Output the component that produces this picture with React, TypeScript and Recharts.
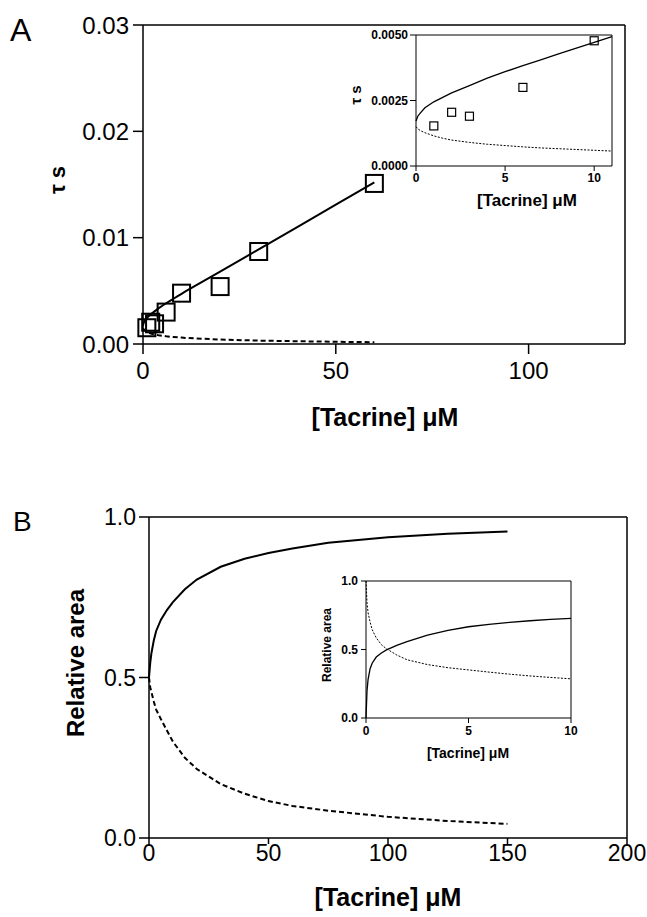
import React from 'react';
import { ComposedChart, Line, Scatter, XAxis, YAxis, ReferenceLine } from 'recharts';

// measured relaxation times (panel A)
const tacrineConc = [1, 2, 3, 6, 10, 20, 30, 60];
const tauMeasured = [0.00153, 0.00205, 0.0019, 0.003, 0.00478, 0.0054, 0.0087, 0.0151];

// fitted time constants (panel A)
const fitConc = [0, 0.1, 0.25, 0.5, 1, 1.5, 2, 3, 4, 5, 6, 7, 8, 9, 10, 11, 20, 30, 40, 50, 60];
const tauSlow = [0.00172, 0.0019, 0.00203, 0.00222, 0.00245, 0.00262, 0.00279, 0.00307, 0.00335, 0.0036, 0.00383,
  0.00405, 0.00428, 0.0045, 0.00472, 0.00494, 0.0068, 0.0089, 0.011, 0.0131, 0.0152];
const tauFast = [0.0015, 0.00142, 0.00135, 0.00127, 0.00115, 0.00106, 0.00099, 0.0009, 0.00083, 0.00078, 0.00073,
  0.00069, 0.00066, 0.00063, 0.0006, 0.00057, 0.00042, 0.00032, 0.00026, 0.00021, 0.00017];

// relative areas (panel B)
const areaConc = [0, 0.5, 1, 2, 3, 5, 7.5, 10, 15, 20, 30, 40, 50, 60, 75, 100, 125, 150];
const areaSlow = [0.5, 0.545, 0.575, 0.615, 0.645, 0.68, 0.71, 0.735, 0.775, 0.805, 0.845, 0.87, 0.888, 0.902, 0.92, 0.937, 0.948, 0.955];
const areaFast = [0.5, 0.47, 0.455, 0.425, 0.4, 0.37, 0.335, 0.3, 0.25, 0.215, 0.168, 0.138, 0.115, 0.1, 0.085, 0.066, 0.053, 0.044];

// relative areas, inset of panel B
const insetConc = [0, 0.05, 0.1, 0.2, 0.3, 0.5, 0.75, 1, 1.5, 2, 3, 4, 5, 6, 7, 8, 9, 10];
const insetSlow = [0, 0.2, 0.28, 0.36, 0.4, 0.445, 0.475, 0.497, 0.53, 0.557, 0.605, 0.64, 0.666, 0.683, 0.698, 0.71, 0.72, 0.727];
const insetFast = [1, 0.84, 0.77, 0.7, 0.645, 0.585, 0.535, 0.505, 0.46, 0.425, 0.39, 0.367, 0.351, 0.335, 0.32, 0.307, 0.296, 0.286];

const points = tacrineConc.map((x, i) => ({ x, tau: tauMeasured[i] }));
const fitRows = fitConc.map((x, i) => ({ x, slow: tauSlow[i], fast: tauFast[i] }));
const areaRows = areaConc.map((x, i) => ({ x, slow: areaSlow[i], fast: areaFast[i] }));
const insetRows = insetConc.map((x, i) => ({ x, slow: insetSlow[i], fast: insetFast[i] }));

const FONT = '"Liberation Sans", Arial, Helvetica, sans-serif';
const axisStyle = { stroke: '#000', strokeWidth: 1.5 };
const thin = { stroke: '#000', strokeWidth: 1 };

const square = (size: number, sw: number) => (props: any) => {
  const { cx, cy } = props;
  if (cx == null || cy == null) return null;
  return <rect x={cx - size / 2} y={cy - size / 2} width={size} height={size} fill="none" stroke="#000" strokeWidth={sw} />;
};

const title = (text: string, x: number, y: number, size: number, rotate = false) => () => (
  <text
    x={x}
    y={y}
    textAnchor="middle"
    dominantBaseline="central"
    fontSize={size}
    fontWeight="bold"
    fill="#000"
    fontFamily={FONT}
    transform={rotate ? `rotate(-90 ${x} ${y})` : undefined}
  >
    {text}
  </text>
);

function PanelA() {
  return (
    <ComposedChart width={647} height={440} margin={{ top: 25, right: 22, bottom: 0, left: 0 }}>
      <XAxis type="number" dataKey="x" domain={[0, 125]} ticks={[0, 50, 100]} height={96}
        tickSize={10} tickMargin={8} axisLine={axisStyle} tickLine={axisStyle}
        tick={{ fill: '#000', fontSize: 24 }} label={title('[Tacrine] \u03bcM', 385, 417, 25)} />
      <YAxis type="number" domain={[0, 0.03]} ticks={[0, 0.01, 0.02, 0.03]} width={143}
        tickFormatter={(v: number) => v.toFixed(2)} tickSize={10} tickMargin={4}
        axisLine={axisStyle} tickLine={axisStyle} tick={{ fill: '#000', fontSize: 24 }}
        label={title('\u03c4 s', 57, 180, 22, true)} />
      <ReferenceLine y={0.03} stroke="#000" strokeWidth={1.5} />
      <ReferenceLine x={125} stroke="#000" strokeWidth={1.5} />
      <Line data={fitRows} dataKey="slow" stroke="#000" strokeWidth={2} dot={false} isAnimationActive={false} />
      <Line data={fitRows} dataKey="fast" stroke="#000" strokeWidth={2} strokeDasharray="5 3" dot={false} isAnimationActive={false} />
      <Scatter data={points} dataKey="tau" shape={square(17, 2)} isAnimationActive={false} />
    </ComposedChart>
  );
}

function InsetA() {
  const pts = points.filter((p) => p.x <= 11);
  const rows = fitRows.filter((r) => r.x <= 11);
  return (
    <ComposedChart width={300} height={200} margin={{ top: 10, right: 18, bottom: 0, left: 0 }}>
      <XAxis type="number" dataKey="x" domain={[0, 11]} ticks={[0, 5, 10]} height={59}
        tickSize={5} tickMargin={2} axisLine={thin} tickLine={thin}
        tick={{ fill: '#000', fontSize: 12, fontWeight: 'bold' }} label={title('[Tacrine] \u03bcM', 197, 175, 17)} />
      <YAxis type="number" domain={[0, 0.005]} ticks={[0, 0.0025, 0.005]} width={86}
        tickFormatter={(v: number) => v.toFixed(4)} tickSize={6} tickMargin={2}
        axisLine={thin} tickLine={thin} tick={{ fill: '#000', fontSize: 12, fontWeight: 'bold' }}
        label={title('\u03c4 s', 25, 70, 15, true)} />
      <ReferenceLine y={0.005} stroke="#000" strokeWidth={1} />
      <ReferenceLine x={11} stroke="#000" strokeWidth={1} />
      <Line data={rows} dataKey="slow" stroke="#000" strokeWidth={1.3} dot={false} isAnimationActive={false} />
      <Line data={rows} dataKey="fast" stroke="#000" strokeWidth={1} strokeDasharray="2 1.5" dot={false} isAnimationActive={false} />
      <Scatter data={pts} dataKey="tau" shape={square(8, 1.2)} isAnimationActive={false} />
    </ComposedChart>
  );
}

function PanelB() {
  return (
    <ComposedChart width={647} height={447} margin={{ top: 47, right: 20, bottom: 0, left: 0 }}>
      <XAxis type="number" dataKey="x" domain={[0, 200]} ticks={[0, 50, 100, 150, 200]} height={79}
        tickSize={6} tickMargin={1} axisLine={axisStyle} tickLine={axisStyle}
        tick={{ fill: '#000', fontSize: 23 }} label={title('[Tacrine] \u03bcM', 388, 427, 25)} />
      <YAxis type="number" domain={[0, 1]} ticks={[0, 0.5, 1]} width={149}
        tickFormatter={(v: number) => v.toFixed(1)} tickSize={10} tickMargin={3}
        axisLine={axisStyle} tickLine={axisStyle} tick={{ fill: '#000', fontSize: 23 }}
        label={title('Relative area', 75, 193, 24, true)} />
      <ReferenceLine y={1} stroke="#000" strokeWidth={1.5} />
      <ReferenceLine x={200} stroke="#000" strokeWidth={1.5} />
      <Line data={areaRows} dataKey="slow" stroke="#000" strokeWidth={2} dot={false} isAnimationActive={false} />
      <Line data={areaRows} dataKey="fast" stroke="#000" strokeWidth={2} strokeDasharray="5 3" dot={false} isAnimationActive={false} />
    </ComposedChart>
  );
}

function InsetB() {
  return (
    <ComposedChart width={310} height={200} margin={{ top: 16, right: 19, bottom: 0, left: 0 }}>
      <XAxis type="number" dataKey="x" domain={[0, 10]} ticks={[0, 5, 10]} height={47}
        tickSize={5} tickMargin={3} axisLine={thin} tickLine={thin}
        tick={{ fill: '#000', fontSize: 12, fontWeight: 'bold' }} label={title('[Tacrine] \u03bcM', 188, 188, 14)} />
      <YAxis type="number" domain={[0, 1]} ticks={[0, 0.5, 1]} width={86}
        tickFormatter={(v: number) => v.toFixed(1)} tickSize={5} tickMargin={3}
        axisLine={thin} tickLine={thin} tick={{ fill: '#000', fontSize: 12, fontWeight: 'bold' }}
        label={title('Relative area', 47, 80, 12, true)} />
      <ReferenceLine y={1} stroke="#000" strokeWidth={1} />
      <ReferenceLine x={10} stroke="#000" strokeWidth={1} />
      <Line data={insetRows} dataKey="slow" stroke="#000" strokeWidth={1.3} dot={false} isAnimationActive={false} />
      <Line data={insetRows} dataKey="fast" stroke="#000" strokeWidth={1} strokeDasharray="2 1.5" dot={false} isAnimationActive={false} />
    </ComposedChart>
  );
}

export default function App() {
  const abs = (left: number, top: number): React.CSSProperties => ({ position: 'absolute', left, top });
  return (
    <div style={{ position: 'absolute', left: 0, top: 0, width: 647, height: 917, background: '#fff', fontFamily: FONT, overflow: 'hidden' }}>
      <div style={{ ...abs(10, 14), fontSize: 32, lineHeight: '32px' }}>A</div>
      <div style={{ ...abs(13, 508), fontSize: 28, lineHeight: '28px' }}>B</div>
      <div style={abs(0, 0)}><PanelA /></div>
      <div style={abs(330, 25)}><InsetA /></div>
      <div style={abs(0, 470)}><PanelB /></div>
      <div style={abs(280, 565)}><InsetB /></div>
    </div>
  );
}
